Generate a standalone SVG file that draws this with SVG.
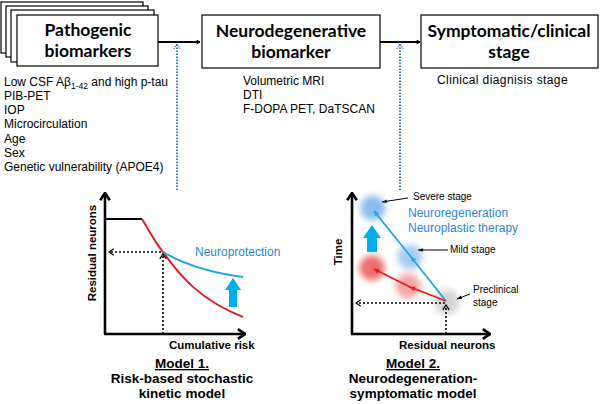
<svg xmlns="http://www.w3.org/2000/svg" width="600" height="404" viewBox="0 0 600 404">
<style>
.box{fill:#fff;stroke:#000;stroke-width:1.2}
.bt{font-family:Lato,"Liberation Sans",sans-serif;font-weight:bold;font-size:17.5px;text-anchor:middle;fill:#000}
.lt{font-family:"Liberation Sans",Arial,sans-serif;font-size:12px;fill:#000}
.ax{font-family:"Liberation Sans",Arial,sans-serif;font-weight:bold;font-size:11.5px;fill:#000}
.mt{font-family:"Liberation Sans",Arial,sans-serif;font-weight:bold;font-size:13.5px;text-anchor:middle;fill:#000}
.st{font-family:"Liberation Sans",Arial,sans-serif;font-size:10px;fill:#000}
.bl{font-family:"Liberation Sans",Arial,sans-serif;font-size:12px;fill:#2a86d4}
.main{stroke:#000;stroke-width:2;fill:none}
.dotb{stroke:#3f7ccc;stroke-width:2;stroke-dasharray:1.5 1.5;fill:none}
.dotk{stroke:#000;stroke-width:1.6;stroke-dasharray:2 2;fill:none}
.axis{stroke:#000;stroke-width:2.6;fill:none}
</style>
<defs>
<marker id="ah" viewBox="0 0 10 10" refX="9" refY="5" markerWidth="5" markerHeight="5" orient="auto" markerUnits="userSpaceOnUse">
<path d="M2,1 L9,5 L2,9" fill="none" stroke="#000" stroke-width="2"/>
</marker>
<marker id="ahb" viewBox="0 0 10 10" refX="9" refY="5" markerWidth="8" markerHeight="8" orient="auto" markerUnits="userSpaceOnUse">
<path d="M3,1 L9,5 L3,9" fill="none" stroke="#3f7ccc" stroke-width="1.8" stroke-dasharray="1.5 1.2"/>
</marker>
<marker id="ahk" viewBox="0 0 10 10" refX="9" refY="5" markerWidth="8" markerHeight="8" orient="auto" markerUnits="userSpaceOnUse">
<path d="M3,1 L9,5 L3,9" fill="none" stroke="#000" stroke-width="1.6"/>
</marker>
<marker id="axh" viewBox="0 0 10 10" refX="9" refY="5" markerWidth="12" markerHeight="12" orient="auto" markerUnits="userSpaceOnUse">
<path d="M3,1 L9,5 L3,9" fill="none" stroke="#000" stroke-width="2.2"/>
</marker>
<marker id="sm" viewBox="0 0 10 10" refX="9" refY="5" markerWidth="6" markerHeight="6" orient="auto" markerUnits="userSpaceOnUse">
<path d="M1,2 L9,5 L1,8 Z" fill="#000"/>
</marker>
<marker id="tb" viewBox="0 0 10 10" refX="8" refY="5" markerWidth="7" markerHeight="7" orient="auto" markerUnits="userSpaceOnUse">
<path d="M1,1.5 L9,5 L1,8.5 Z" fill="#1ea8e0"/>
</marker>
<marker id="tr" viewBox="0 0 10 10" refX="8" refY="5" markerWidth="7" markerHeight="7" orient="auto" markerUnits="userSpaceOnUse">
<path d="M1,1.5 L9,5 L1,8.5 Z" fill="#e0201c"/>
</marker>
<filter id="blur" x="-50%" y="-50%" width="200%" height="200%">
<feGaussianBlur stdDeviation="3"/>
</filter>
</defs>

<g id="pathogenic-biomarkers">
<rect class="box" x="1" y="2" width="142" height="51"/>
<rect class="box" x="6" y="6" width="142" height="51"/>
<rect class="box" x="11" y="10" width="143" height="52"/>
<rect class="box" x="17" y="15" width="141" height="51"/>
<text class="bt" x="88" y="36">Pathogenic</text>
<text class="bt" x="88" y="57">biomarkers</text>
</g>

<g id="neurodegenerative-biomarker">
<rect class="box" x="202" y="15" width="178" height="53"/>
<text class="bt" x="291" y="37">Neurodegenerative</text>
<text class="bt" x="291" y="58">biomarker</text>
</g>

<g id="symptomatic-stage">
<rect class="box" x="421" y="15" width="177" height="53"/>
<text class="bt" x="509" y="37">Symptomatic/clinical</text>
<text class="bt" x="509" y="58">stage</text>
</g>

<g id="pathogenic-list">
<text class="lt" x="4" y="86">Low CSF Aβ<tspan font-size="8.5" dy="3">1-42</tspan><tspan dy="-3"> and high p-tau</tspan></text>
<text class="lt" x="4" y="100">PIB-PET</text>
<text class="lt" x="4" y="114">IOP</text>
<text class="lt" x="4" y="128">Microcirculation</text>
<text class="lt" x="4" y="142.5">Age</text>
<text class="lt" x="4" y="156.5">Sex</text>
<text class="lt" x="4" y="171">Genetic vulnerability (APOE4)</text>
</g>

<g id="neuro-list">
<text class="lt" x="243" y="85">Volumetric MRI</text>
<text class="lt" x="243" y="99">DTI</text>
<text class="lt" x="243" y="113">F-DOPA PET, DaTSCAN</text>
</g>

<g id="clinical-list">
<text class="lt" x="437" y="84" letter-spacing="0.4">Clinical diagnisis stage</text>
</g>

<g id="connectors">
<line class="main" x1="158" y1="42" x2="200" y2="42" marker-end="url(#ah)"/>
<line class="main" x1="380" y1="42" x2="420" y2="42" marker-end="url(#ah)"/>
<line class="dotb" x1="177" y1="190" x2="177" y2="44" marker-end="url(#ahb)"/>
<line class="dotb" x1="400" y1="190" x2="400" y2="44" marker-end="url(#ahb)"/>
</g>

<g id="model1">
<line class="axis" x1="105" y1="334" x2="105" y2="193" marker-end="url(#axh)"/>
<line class="axis" x1="104" y1="334" x2="245" y2="334" marker-end="url(#axh)"/>
<path d="M105,219 L142,219" stroke="#000" stroke-width="2" fill="none"/>
<path d="M142,219 C150,232 155,242 163,252 C180,276 200,300 243,317" stroke="#e0201c" stroke-width="2" fill="none"/>
<path d="M163,252 C180,262 205,272 243,277" stroke="#1ea8e0" stroke-width="2" fill="none"/>
<line class="dotk" x1="161" y1="252" x2="109" y2="252" marker-end="url(#ahk)"/>
<line class="dotk" x1="163" y1="334" x2="163" y2="254" marker-end="url(#ahk)"/>
<path d="M229,307 L237,307 L237,290 L241,290 L233,278 L225,290 L229,290 Z" fill="#00aeef"/>
<text class="bl" x="195" y="256">Neuroprotection</text>
<text class="ax" transform="translate(96,253) rotate(-90)" text-anchor="middle">Residual neurons</text>
<text class="ax" x="169" y="349">Cumulative risk</text>
<text class="mt" x="182" y="368" text-decoration="underline">Model 1.</text>
<text class="mt" x="182" y="383">Risk-based stochastic</text>
<text class="mt" x="182" y="398">kinetic model</text>
</g>

<g id="model2">
<g filter="url(#blur)">
<circle cx="373" cy="208" r="12.5" fill="#8cbcf0"/>
<circle cx="410" cy="257" r="12.5" fill="#a8cbf2"/>
<circle cx="372" cy="268" r="12.5" fill="#f06a6a"/>
<circle cx="408" cy="286" r="12.5" fill="#f4a4a4"/>
<circle cx="447" cy="302" r="12.5" fill="#d4d4d4"/>
</g>
<line class="axis" x1="352" y1="334" x2="352" y2="193" marker-end="url(#axh)"/>
<line class="axis" x1="351" y1="334" x2="490" y2="334" marker-end="url(#axh)"/>
<line class="dotk" x1="445" y1="303" x2="356" y2="303" marker-end="url(#ahk)"/>
<line class="dotk" x1="446" y1="334" x2="446" y2="305" marker-end="url(#ahk)"/>
<path d="M446,301 L411,257 L374,211" stroke="#1ea8e0" stroke-width="1.8" fill="none" marker-mid="url(#tb)" marker-end="url(#tb)"/>
<path d="M446,301 L410,287 L374,269" stroke="#e0201c" stroke-width="1.8" fill="none" marker-mid="url(#tr)" marker-end="url(#tr)"/>
<path d="M367,252 L377,252 L377,238 L381,238 L372,225 L363,238 L367,238 Z" fill="#00aeef"/>
<line x1="408" y1="198" x2="382" y2="202" stroke="#000" stroke-width="1" marker-end="url(#sm)"/>
<line x1="448" y1="250" x2="418" y2="250" stroke="#000" stroke-width="1" marker-end="url(#sm)"/>
<line x1="470" y1="294" x2="457" y2="299" stroke="#000" stroke-width="1" marker-end="url(#sm)"/>
<text class="st" x="413" y="200">Severe stage</text>
<text class="bl" x="408" y="217">Neuroregeneration</text>
<text class="bl" x="408" y="232">Neuroplastic therapy</text>
<text class="st" x="450" y="253">Mild stage</text>
<text class="st" x="473" y="293">Preclinical</text>
<text class="st" x="473" y="306">stage</text>
<text class="ax" transform="translate(342,252) rotate(-90)" text-anchor="middle">Time</text>
<text class="ax" x="399" y="349">Residual neurons</text>
<text class="mt" x="413" y="368" text-decoration="underline">Model 2.</text>
<text class="mt" x="413" y="383">Neurodegeneration-</text>
<text class="mt" x="413" y="398">symptomatic model</text>
</g>
</svg>
